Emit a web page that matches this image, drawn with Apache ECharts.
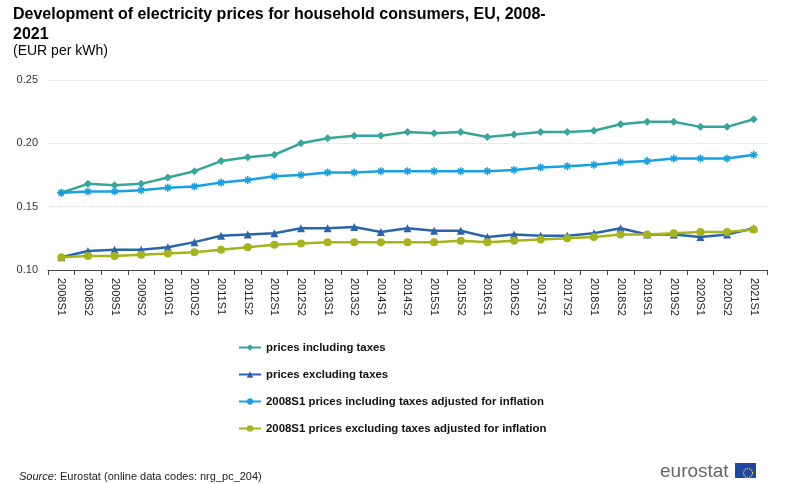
<!DOCTYPE html>
<html>
<head>
<meta charset="utf-8">
<script src="https://cdn.jsdelivr.net/npm/echarts@6/dist/echarts.min.js"></script>
<style>
  html, body { margin: 0; padding: 0; background: #fff; }
  #chart { width: 800px; height: 484px; }
</style>
</head>
<body>
<div id="chart"></div>
<script>
// semesters
var periods = ['2008S1','2008S2','2009S1','2009S2','2010S1','2010S2','2011S1','2011S2','2012S1','2012S2',
  '2013S1','2013S2','2014S1','2014S2','2015S1','2015S2','2016S1','2016S2','2017S1','2017S2',
  '2018S1','2018S2','2019S1','2019S2','2020S1','2020S2','2021S1'];

var inclTaxes = [0.161,0.168,0.167,0.168,0.173,0.178,0.186,0.189,0.191,0.200,
  0.204,0.206,0.206,0.209,0.208,0.209,0.205,0.207,0.209,0.209,
  0.210,0.215,0.217,0.217,0.213,0.213,0.219];

var exclTaxes = [0.110,0.115,0.116,0.116,0.118,0.122,0.127,0.128,0.129,0.133,
  0.133,0.134,0.130,0.133,0.131,0.131,0.126,0.128,0.127,0.127,
  0.129,0.133,0.128,0.128,0.126,0.128,0.133];

var inclTaxesInfl = [0.161,0.162,0.162,0.163,0.165,0.166,0.169,0.171,0.174,0.175,
  0.177,0.177,0.178,0.178,0.178,0.178,0.178,0.179,0.181,0.182,
  0.183,0.185,0.186,0.188,0.188,0.188,0.191];

var exclTaxesInfl = [0.110,0.111,0.111,0.112,0.113,0.114,0.116,0.118,0.120,0.121,
  0.122,0.122,0.122,0.122,0.122,0.123,0.122,0.123,0.124,0.125,
  0.126,0.128,0.128,0.129,0.130,0.130,0.132];

var yTicks = { min: 0.10, max: 0.25, step: 0.05 };

var names = ['prices including taxes', 'prices excluding taxes',
  '2008S1 prices including taxes adjusted for inflation',
  '2008S1 prices excluding taxes adjusted for inflation'];

var asterisk = 'path://M0,5L10,5M5,0L5,10M1.5,1.5L8.5,8.5M8.5,1.5L1.5,8.5';

var chart = echarts.init(document.getElementById('chart'));

function line(name, data, color, symbol, size, extra) {
  var s = {
    name: name,
    type: 'line',
    data: data,
    symbol: symbol,
    symbolSize: size,
    showSymbol: true,
    lineStyle: { color: color, width: 2.5 },
    itemStyle: { color: color },
    emphasis: { disabled: true }
  };
  if (extra) Object.assign(s.itemStyle, extra);
  return s;
}

var option = {
  animation: false,
  textStyle: { fontFamily: 'Liberation Sans, Arial, sans-serif' },
  title: [{
    text: 'Development of electricity prices for household consumers, EU, 2008-\n2021',
    left: 8, top: 0,
    textStyle: { fontSize: 16, fontWeight: 'bold', color: '#000', lineHeight: 20 }
  }, {
    text: '(EUR per kWh)',
    left: 8, top: 39,
    textStyle: { fontSize: 14, fontWeight: 'normal', color: '#000' }
  }, {
    text: '{i|Source}: Eurostat (online data codes: nrg_pc_204)',
    left: 14, top: 466,
    textStyle: {
      fontSize: 11, fontWeight: 'normal', color: '#222',
      rich: { i: { fontStyle: 'italic', fontSize: 11, color: '#222' } }
    }
  }],
  grid: { left: 48, right: 33, top: 80, bottom: 214 },
  legend: {
    orient: 'vertical',
    left: 233, top: 337,
    itemGap: 16,
    itemWidth: 22, itemHeight: 8,
    textStyle: { fontSize: 11.4, fontWeight: 'bold', color: '#111' },
    data: names
  },
  xAxis: {
    type: 'category',
    data: periods,
    boundaryGap: true,
    axisLine: { lineStyle: { color: '#444', width: 1 } },
    axisTick: { show: true, alignWithLabel: false, length: 5, lineStyle: { color: '#444' } },
    axisLabel: { rotate: -90, fontSize: 11, color: '#222', margin: 8 }
  },
  yAxis: {
    type: 'value',
    min: yTicks.min, max: yTicks.max, interval: yTicks.step,
    axisLine: { show: false },
    axisTick: { show: false },
    axisLabel: { fontSize: 11, color: '#333', margin: 10, formatter: function (v) { return v.toFixed(2); } },
    splitLine: { lineStyle: { color: '#d9d9d9', type: 'dotted' } }
  },
  series: [
    line(names[0], inclTaxes, '#36a59b', 'diamond', 8),
    line(names[1], exclTaxes, '#2a64aa', 'triangle', 8),
    line(names[2], inclTaxesInfl, '#1a9fe0', asterisk, 8, { borderColor: '#1a9fe0', borderWidth: 1.5 }),
    line(names[3], exclTaxesInfl, '#a6b31c', 'circle', 8)
  ],
  graphic: [{
    type: 'text', left: 660, top: 462,
    style: { text: 'eurostat', fontSize: 19, fill: '#666', fontFamily: 'Liberation Sans, Arial, sans-serif' }
  }, {
    type: 'rect', left: 735, top: 463, shape: { width: 21, height: 15 },
    style: { fill: '#1f47a3' }
  }, {
    type: 'circle', left: 741, top: 466, shape: { r: 4.5 },
    style: { fill: 'none', stroke: '#f2d300', lineWidth: 1.2, lineDash: [1.2, 1] }
  }]
};

chart.setOption(option);
</script>
</body>
</html>
